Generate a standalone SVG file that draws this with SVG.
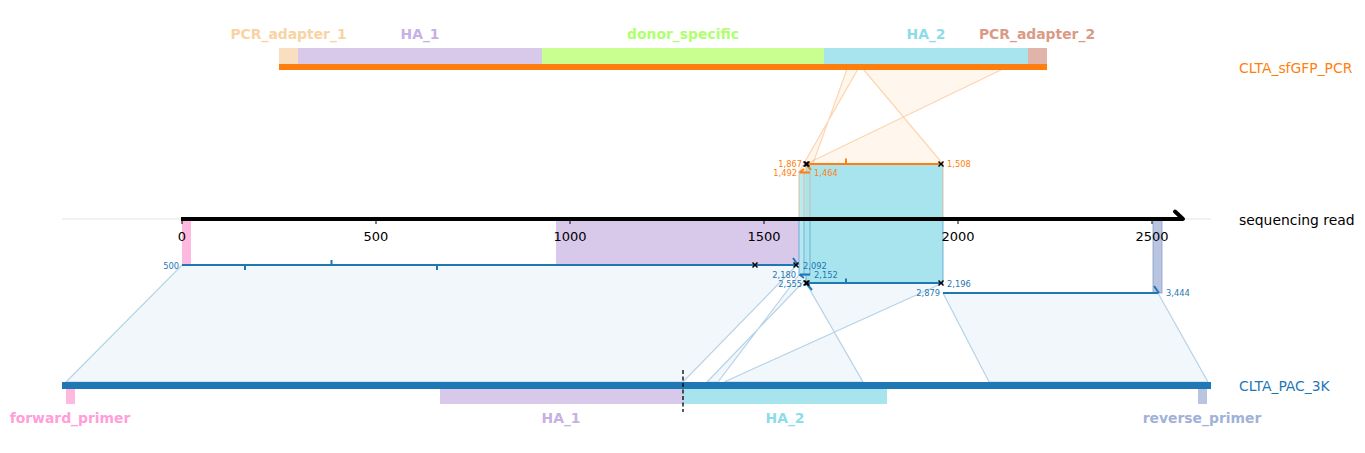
<svg xmlns="http://www.w3.org/2000/svg" width="1365" height="453" viewBox="0 0 1365 453">
<style>
text{font-family:"DejaVu Sans","Liberation Sans",sans-serif}
.fl{font-size:13.9px;font-weight:bold;text-anchor:middle}
.side{font-size:13.9px}
.tick{font-size:13px;text-anchor:middle;fill:#000}
.sm{font-size:8.3px}
.so{fill:#ff7f0e}
.sb{fill:#1f77b4}
.end{text-anchor:end}
.polyO{fill:#ff7f0e;fill-opacity:0.07;stroke:#ff7f0e;stroke-opacity:0.3;stroke-width:1.2}
.polyB{fill:#1f77b4;fill-opacity:0.06;stroke:#1f77b4;stroke-opacity:0.3;stroke-width:1.2}
.alO{stroke:#ff7f0e;stroke-width:2;fill:none}
.alB{stroke:#1f77b4;stroke-width:2;fill:none}
.xm{stroke:#000;stroke-width:1.4}
.cy{fill:#a8e4ee}
</style>
<defs>
<g id="xmk"><line class="xm" x1="-2.5" y1="-2.5" x2="2.5" y2="2.5"/><line class="xm" x1="-2.5" y1="2.5" x2="2.5" y2="-2.5"/></g>
</defs>

<g id="connectors">
<polygon class="polyO" points="863,69 1003,69 806,164 943,164"/>
<polygon class="polyO" points="847,69 858,69 799,172 810,172"/>
<polygon class="polyB" points="182,265 797,265 683,382 66,382"/>
<polygon class="polyB" points="799,275 810,275 707,382 718,382"/>
<polygon class="polyB" points="806,283 943,283 724,382 863,382"/>
<polygon class="polyB" points="943,293 1158,293 1208,382 989,382"/>
</g>

<g id="CLTA_sfGFP_PCR">
<rect x="279" y="48" width="19" height="16" fill="#f9dfc0"/>
<rect x="298" y="48" width="244" height="16" fill="#d8c8ea"/>
<rect x="542" y="48" width="282" height="16" fill="#c8ff90"/>
<rect x="824" y="48" width="204" height="16" fill="#a8e4ee"/>
<rect x="1028" y="48" width="19" height="16" fill="#e0b4a8"/>
<rect x="279" y="64" width="768" height="6" fill="#ff7f0e"/>
<text class="fl" x="288.5" y="39" fill="#f9d3a4">PCR_adapter_1</text>
<text class="fl" x="420" y="39" fill="#c6b0e4">HA_1</text>
<text class="fl" x="683" y="39" fill="#b0ff6e">donor_specific</text>
<text class="fl" x="926" y="39" fill="#8ddcea">HA_2</text>
<text class="fl" x="1037" y="39" fill="#d99a86">PCR_adapter_2</text>
<text class="side" x="1239" y="73" fill="#ff7f0e">CLTA_sfGFP_PCR</text>
</g>

<g id="sequencing_read">
<line x1="62" y1="219" x2="1211" y2="219" stroke="#e3e3e3" stroke-width="1"/>
<rect x="182" y="219" width="9" height="46" fill="#ffb9de"/>
<rect x="556" y="219" width="243" height="46" fill="#d8c8ea"/>
<rect x="1153" y="219" width="9" height="74" fill="#b8c4e0" stroke="#8aa0cc" stroke-width="0.8"/>
<rect class="cy" x="806" y="164" width="137" height="55" stroke="#d8b48c" stroke-width="0.8"/>
<rect class="cy" x="799" y="172" width="11" height="47" fill-opacity="0.8" stroke="#d8b48c" stroke-width="0.8"/>
<line x1="804" y1="172" x2="804" y2="219" stroke="#d8b48c" stroke-width="0.8"/>
<rect class="cy" x="806" y="219" width="137" height="64" stroke="#5aa0d0" stroke-width="0.8"/>
<rect class="cy" x="799" y="219" width="11" height="56" fill-opacity="0.85" stroke="#5aa0d0" stroke-width="0.8"/>
<line x1="804" y1="219" x2="804" y2="275" stroke="#5aa0d0" stroke-width="0.8"/>
<line x1="181" y1="219" x2="1183" y2="219" stroke="#000" stroke-width="4"/>
<polyline points="1175,211.5 1183,219" fill="none" stroke="#000" stroke-width="4" stroke-linecap="round"/>
<g stroke="#000" stroke-width="1">
<line x1="182" y1="219" x2="182" y2="224"/>
<line x1="376" y1="219" x2="376" y2="224"/>
<line x1="570" y1="219" x2="570" y2="224"/>
<line x1="764" y1="219" x2="764" y2="224"/>
<line x1="958" y1="219" x2="958" y2="224"/>
<line x1="1152" y1="219" x2="1152" y2="224"/>
</g>
<text class="tick" x="182" y="241">0</text>
<text class="tick" x="376" y="241">500</text>
<text class="tick" x="570" y="241">1000</text>
<text class="tick" x="764" y="241">1500</text>
<text class="tick" x="958" y="241">2000</text>
<text class="tick" x="1152" y="241">2500</text>
<text class="side" x="1239" y="225" fill="#000">sequencing read</text>
</g>

<g id="alignments">
<line class="alO" x1="806" y1="164" x2="943" y2="164"/>
<line class="alO" x1="846" y1="164" x2="846" y2="158.5"/>
<line class="alO" x1="806" y1="164" x2="811" y2="170"/>
<line class="alO" x1="800" y1="172.5" x2="810" y2="172.5"/>
<polyline class="alO" points="804,169 799.5,172.5" stroke-width="1.6"/>
<use href="#xmk" x="806" y="164"/>
<use href="#xmk" x="807" y="164"/>
<use href="#xmk" x="941" y="164"/>
<text class="sm so end" x="802" y="167">1,867</text>
<text class="sm so" x="947" y="167">1,508</text>
<text class="sm so end" x="797" y="176">1,492</text>
<text class="sm so" x="814" y="176">1,464</text>

<line class="alB" x1="182" y1="265" x2="797" y2="265"/>
<line class="alB" x1="245" y1="265" x2="245" y2="270"/>
<line class="alB" x1="331.5" y1="265" x2="331.5" y2="260"/>
<line class="alB" x1="437" y1="265" x2="437" y2="270"/>
<line class="alB" x1="793" y1="258" x2="798" y2="265"/>
<use href="#xmk" x="755" y="265"/>
<use href="#xmk" x="796" y="265"/>
<line class="alB" x1="800" y1="274.5" x2="810" y2="274.5"/>
<polyline class="alB" points="804,278 799.5,274.5" stroke-width="1.6"/>
<line class="alB" x1="806" y1="283" x2="943" y2="283"/>
<line class="alB" x1="846" y1="283" x2="846" y2="278.5"/>
<line class="alB" x1="806" y1="283" x2="812" y2="290"/>
<use href="#xmk" x="806" y="283"/>
<use href="#xmk" x="807" y="283"/>
<use href="#xmk" x="941" y="283"/>
<line class="alB" x1="943" y1="293" x2="1158" y2="293"/>
<line class="alB" x1="1154" y1="286" x2="1159" y2="293"/>
<text class="sm sb end" x="179" y="268.5">500</text>
<text class="sm sb" x="803" y="268.5">2,092</text>
<text class="sm sb end" x="796" y="278">2,180</text>
<text class="sm sb" x="814" y="278">2,152</text>
<text class="sm sb end" x="802" y="287">2,555</text>
<text class="sm sb" x="947" y="287">2,196</text>
<text class="sm sb end" x="940" y="296">2,879</text>
<text class="sm sb" x="1166" y="296">3,444</text>
</g>

<g id="CLTA_PAC_3K">
<rect x="62" y="382" width="1149" height="7" fill="#1f77b4"/>
<rect x="66" y="389" width="9" height="15" fill="#ffb9de"/>
<rect x="440" y="389" width="243" height="15" fill="#d8c8ea"/>
<rect x="683" y="389" width="204" height="15" fill="#a8e4ee"/>
<rect x="1198" y="389" width="9" height="15" fill="#b8c4e0"/>
<line x1="683" y1="370" x2="683" y2="412" stroke="#000" stroke-width="1.3" stroke-dasharray="4,2.5"/>
<text class="fl" x="70" y="423" fill="#ff9ed8">forward_primer</text>
<text class="fl" x="561" y="423" fill="#c6b0e4">HA_1</text>
<text class="fl" x="785" y="423" fill="#8ddcea">HA_2</text>
<text class="fl" x="1202" y="423" fill="#a0b2d8">reverse_primer</text>
<text class="side" x="1239" y="390.5" fill="#1f77b4">CLTA_PAC_3K</text>
</g>
</svg>
